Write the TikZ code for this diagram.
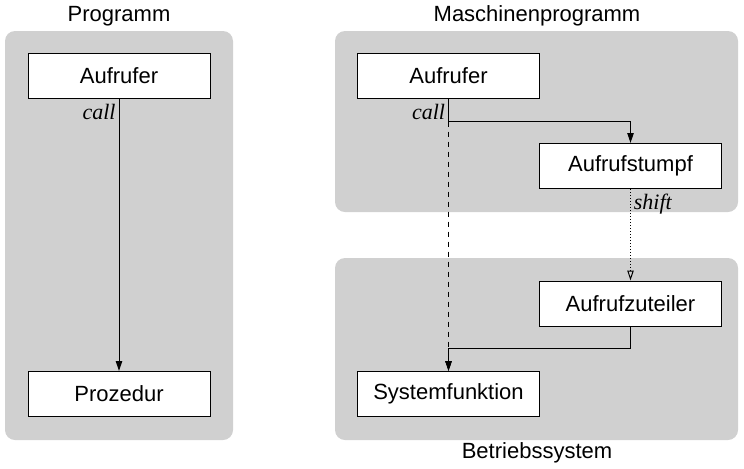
\documentclass[tikz,border=0pt]{standalone}
\usepackage{fontspec}
\setmainfont{Liberation Sans}
\newfontfamily\lblfont{Liberation Serif}
\usetikzlibrary{positioning, calc}
\usetikzlibrary{arrows.meta}
\definecolor{panelgray}{RGB}{208,208,208}

\begin{document}
\begin{tikzpicture}[x=0.5pt,y=-0.5pt,font=\fontsize{11}{13}\selectfont,
    box/.style={draw,fill=white,line width=0.5pt,minimum width=91pt,minimum height=22.5pt,inner sep=0pt},
    panel/.style={fill=panelgray,rounded corners=5pt},
    lbl/.style={font=\lblfont\itshape\fontsize{11}{13}\selectfont,inner xsep=1.5pt,inner ysep=2.5pt},
    >={Triangle[length=5pt,width=3.2pt]}]
\useasboundingbox (0,0) rectangle (744,468);
% grey panels
\fill[panel] (5,31) rectangle (233,440);
\fill[panel] (335,31) rectangle (738,212);
\fill[panel] (335,258) rectangle (738,440);
% titles
\node (tprog) at (119,16) {Programm};
\node (tmasch) at (537,16) {Maschinenprogramm};
\node (tbs) at (537,453) {Betriebssystem};

% left: direct call
\draw 	(119,75.5) node[box](auf1){Aufrufer}   (119,394) node[box](proz){Prozedur};
\path[->, line width=0.5pt]
     (auf1) edge node {} (proz);
\node[lbl, anchor=north east] (call1) at (auf1.south) {call};

% right: call through stub and dispatcher
\draw 	(448.5,75.5) node[box](auf2){Aufrufer}      (630.5,166) node[box](stumpf){Aufrufstumpf}
		(630.5,303.5) node[box](zut){Aufrufzuteiler} (448.5,394) node[box](sysf){Systemfunktion};
\draw[->, line width=0.5pt] (auf2.south) -- ++(0,23) coordinate (c1) -| (stumpf.north);
\draw[->, line width=0.5pt, dash pattern=on 2.5pt off 2.5pt] (c1) -- (sysf.north);
\draw[-{Triangle[open,length=5pt,width=3.2pt]}, line width=0.5pt, densely dotted] (stumpf.south) -- (zut.north);
\draw[->, line width=0.5pt] (zut.south) -- ++(0,22) -| (sysf.north);
\node[lbl, anchor=north east] (call2) at (auf2.south) {call};
\node[lbl, anchor=north west] (shift) at (stumpf.south) {shift};
\end{tikzpicture}
\end{document}
